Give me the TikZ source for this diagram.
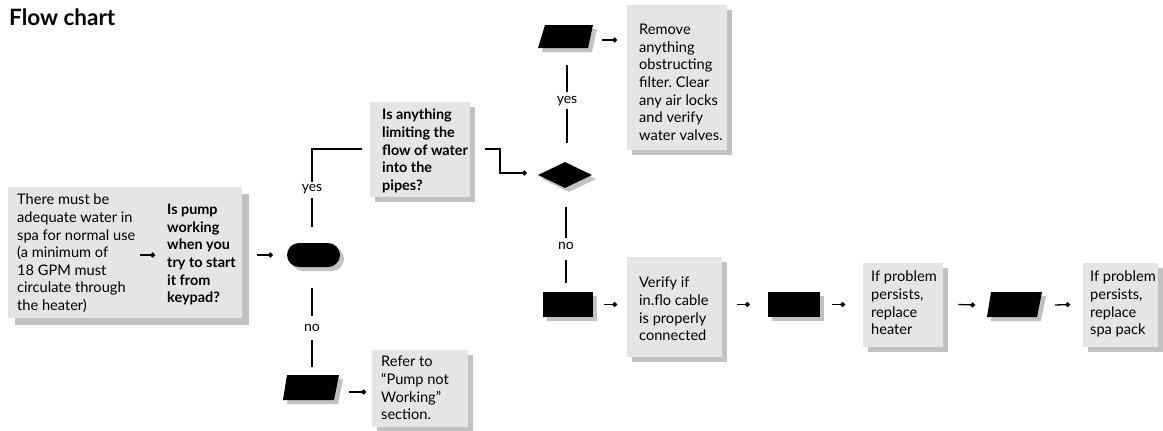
\documentclass[tikz,border=0pt]{standalone}
\usepackage{fontspec}
\setmainfont{Lato}
\usetikzlibrary{arrows.meta,shapes.geometric,shapes.misc,shadows}
\definecolor{boxfill}{gray}{0.9}
\definecolor{shadowc}{gray}{0.76}
\frenchspacing
\begin{document}
\begin{tikzpicture}[x=1pt,y=-1pt,
  txt/.style={anchor=north west, inner sep=0pt, align=left, font=\fontsize{14.6}{17.6}\selectfont},
  btxt/.style={anchor=north west, inner sep=0pt, align=left, font=\fontsize{14.4}{17.6}\selectfont\bfseries},
  lbl/.style={inner sep=0pt, font=\fontsize{14}{17}\selectfont},
  gbox/.style={anchor=north west, draw=none, fill=boxfill, inner sep=0pt,
    drop shadow={shadow xshift=#1pt, shadow yshift=-#1pt, fill=shadowc, opacity=1}},
  gbox/.default=5,
  blk/.style={fill=black, draw=none, inner sep=0pt,
    drop shadow={shadow xshift=4pt, shadow yshift=-4pt, fill=shadowc, opacity=1}},
  conn/.style={line width=1.3pt},
  dotarrow/.style={line width=1.3pt, -{Circle[length=4.8pt,width=4.8pt]}},
]
\useasboundingbox (0,0) rectangle (1163,431);

% title
\node[anchor=base west, inner sep=0pt, font=\fontsize{22.5}{26}\selectfont\bfseries] (title) at (9,25) {Flow chart};

% grey boxes
\node[gbox=7, minimum width=234pt, minimum height=131pt] (b1) at (8,187) {};
\node[gbox, minimum width=100pt, minimum height=95pt] (b2) at (370,102) {};
\node[gbox, minimum width=100pt, minimum height=145pt] (b3) at (627,5) {};
\node[gbox, minimum width=95pt, minimum height=100pt] (b4) at (627,257) {};
\node[gbox, minimum width=80pt, minimum height=84pt] (b5) at (863,263) {};
\node[gbox, minimum width=75pt, minimum height=84pt] (b6) at (1083,263) {};
\node[gbox, minimum width=96pt, minimum height=77pt] (b7) at (372,350) {};

% texts
\node[txt] (t1) at (17,194) {There must be\\adequate water in\\spa for normal use\\(a minimum of\\18 GPM must\\circulate through\\the heater)};
\node[btxt] (t1b) at (167,204) {Is pump\\working\\when you\\try to start\\it from\\keypad?};
\node[btxt] (t2) at (382,109) {Is anything\\limiting the\\flow of water\\into the\\pipes?};
\node[txt] (t3) at (639,24) {Remove\\anything\\obstructing\\filter. Clear\\any air locks\\and verify\\water valves.};
\node[txt] (t4) at (639,277) {Verify if\\in.flo cable\\is properly\\connected};
\node[txt] (t5) at (871,271) {If problem\\persists,\\replace\\heater};
\node[txt] (t6) at (1090,271) {If problem\\persists,\\replace\\spa pack};
\node[txt] (t7) at (381,356) {Refer to\\``Pump not\\Working''\\section.};

% black shapes
\node[blk, rounded rectangle, minimum width=53pt, minimum height=24pt] (oval) at (313.5,255) {};
\node[blk, diamond, aspect=2.08, minimum width=54pt, minimum height=26pt] (dia) at (565,175) {};
\node[blk, rectangle, minimum width=50pt, minimum height=25pt] (r1) at (568,304.5) {};
\node[blk, rectangle, minimum width=52pt, minimum height=25pt] (r2) at (794,304.5) {};

% parallelograms
\fill[shadowc] (549,29) -- (597,29) -- (592,52) -- (542,52) -- cycle;
\fill[black] (545,25) -- (593,25) -- (588,48) -- (538,48) -- cycle;
\coordinate (p1) at (566,36.5);
\fill[shadowc] (995,296) -- (1046,296) -- (1041,321) -- (991,321) -- cycle;
\fill[black] (991,292) -- (1042,292) -- (1037,317) -- (987,317) -- cycle;
\coordinate (p2) at (1014,304.5);
\fill[shadowc] (291,379) -- (343,379) -- (338,404) -- (287,404) -- cycle;
\fill[black] (287,375) -- (339,375) -- (334,400) -- (283,400) -- cycle;
\coordinate (p3) at (311,387.5);

% labels
\node[lbl] (yes1) at (312,189) {yes};
\node[lbl] (yes2) at (567,101) {yes};
\node[lbl] (no1) at (566,246) {no};
\node[lbl] (no2) at (312,328) {no};

% connector end points
\coordinate (y1a) at (312,227);
\coordinate (y1b) at (312,198);
\coordinate (y1c) at (312,182);
\coordinate (y1d) at (312,149);
\coordinate (y2a) at (567,143);
\coordinate (y2b) at (567,109);
\coordinate (y2c) at (567,92);
\coordinate (y2d) at (567,65);
\coordinate (n1a) at (566,207);
\coordinate (n1b) at (566,238);
\coordinate (n1c) at (566,260);
\coordinate (n1d) at (566,283);
\coordinate (n2a) at (312,288);
\coordinate (n2b) at (312,316);
\coordinate (n2c) at (312,340);
\coordinate (n2d) at (312,367);

% connectors
\draw[conn] (y1a) -- (y1b);
\draw[conn] (y1c) -- (y1d) -- ([xshift=-8pt]b2.west |- y1d);
\draw[dotarrow] ([xshift=15pt]b2.east |- y1d) -- (500,149) -- (500,173) -- ([xshift=-11pt]dia.west |- 0,173);
\draw[conn] (y2a) -- (y2b);
\draw[conn] (y2c) -- (y2d);
\draw[conn] (n1a) -- (n1b);
\draw[conn] (n1c) -- (n1d);
\draw[conn] (n2a) -- (n2b);
\draw[conn] (n2c) -- (n2d);

% dot arrows
\draw[dotarrow] (140,255) -- (155,255);
\draw[dotarrow] ([xshift=15pt]b1.east |- oval) -- ([xshift=-14pt]oval.west);
\draw[dotarrow] (602,40) -- ([xshift=-10pt]b3.west |- 0,40);
\draw[dotarrow] ([xshift=11pt]r1.east) -- ([xshift=-10pt]b4.west |- r1);
\draw[dotarrow] ([xshift=15pt]b4.east |- r1) -- ([xshift=-18pt]r2.west);
\draw[dotarrow] ([xshift=12pt]r2.east) -- ([xshift=-18pt]b5.west |- r2);
\draw[dotarrow] ([xshift=15pt]b5.east |- r2) -- (975,305);
\draw[dotarrow] (1055,305) -- ([xshift=-13pt]b6.west |- r2);
\draw[dotarrow] (349,392) -- ([xshift=-6pt]b7.west |- 0,392);
\end{tikzpicture}
\end{document}
